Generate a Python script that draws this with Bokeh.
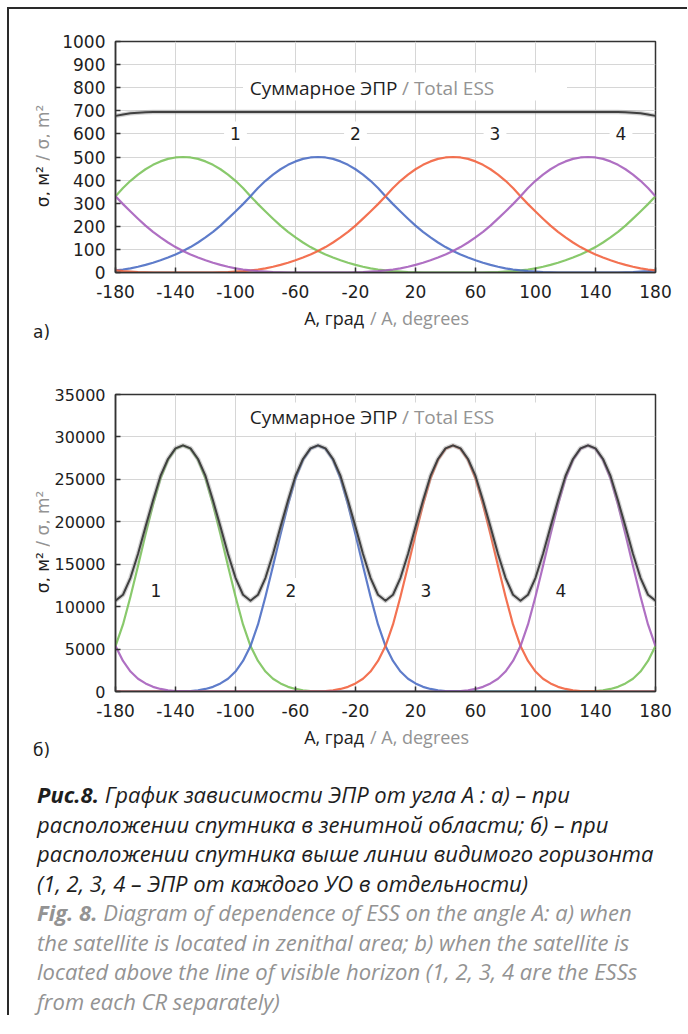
from bokeh.plotting import figure
from bokeh.models import Range1d, FixedTicker, Label, BoxAnnotation, Div, CustomJSTickFormatter
from bokeh.layouts import column, row
from bokeh.embed import file_html
from bokeh.resources import INLINE

# ---------------- data ----------------
angle = list(range(-180, 181, 5))
x_ticks = [-180, -140, -100, -60, -20, 20, 60, 100, 140, 180]
y_ticks_a = [0, 100, 200, 300, 400, 500, 600, 700, 800, 900, 1000]
y_ticks_b = [0, 5000, 10000, 15000, 20000, 25000, 30000, 35000]
cr_names = ["1", "2", "3", "4"]

# chart a) – satellite in zenithal area (sigma, m^2)
cr1_a = [330, 366, 397, 424, 447, 466, 481, 492, 498, 500, 498, 492, 481, 466, 447, 424, 397, 366, 330,
         296, 264, 233, 203, 176, 152, 130, 110, 93, 78, 65, 53, 42, 33, 25, 18, 13, 9, 6, 4, 2, 1,
         0, 0, 0, 0, 0, 0, 0, 0, 0,
         1, 2, 4, 6, 9, 13, 18, 25, 33, 42, 53, 65, 78, 93, 110, 130, 152, 176, 203, 233, 264, 296, 330]
cr2_a = [9, 13, 18, 25, 33, 42, 53, 65, 78, 93, 110, 130, 152, 176, 203, 233, 264, 296, 330, 366, 397,
         424, 447, 466, 481, 492, 498, 500,
         498, 492, 481, 466, 447, 424, 397, 366, 330,
         296, 264, 233, 203, 176, 152, 130, 110, 93, 78, 65, 53, 42, 33, 25, 18, 13, 9, 6, 4, 2, 1,
         0, 0, 0, 0, 0, 0, 0, 0, 0,
         1, 2, 4, 6, 9]
cr3_a = [9, 6, 4, 2, 1,
         0, 0, 0, 0, 0, 0, 0, 0, 0,
         1, 2, 4, 6, 9, 13, 18, 25, 33, 42, 53, 65, 78, 93, 110, 130, 152, 176, 203, 233, 264, 296, 330,
         366, 397, 424, 447, 466, 481, 492, 498,
         500,
         498, 492, 481, 466, 447, 424, 397, 366, 330, 296, 264, 233, 203, 176, 152, 130, 110, 93, 78,
         65, 53, 42, 33, 25, 18, 13, 9]
cr4_a = [330, 296, 264, 233, 203, 176, 152, 130, 110, 93, 78, 65, 53, 42, 33, 25, 18, 13, 9, 6, 4, 2, 1,
         0, 0, 0, 0, 0, 0, 0, 0, 0,
         1, 2, 4, 6, 9, 13, 18, 25, 33, 42, 53, 65, 78, 93, 110, 130, 152, 176, 203, 233, 264, 296, 330,
         366, 397, 424, 447, 466, 481, 492, 498,
         500,
         498, 492, 481, 466, 447, 424, 397, 366, 330]
total_a = [678, 684, 689, 692, 694,
           695, 695, 695, 695, 695, 695, 695, 695, 695,
           695, 695, 695, 695, 695, 695, 695, 695, 695,
           695, 695, 695, 695, 695, 695, 695, 695, 695,
           695, 695, 695, 695, 695, 695, 695, 695, 695,
           695, 695, 695, 695, 695, 695, 695, 695, 695,
           695, 695, 695, 695, 695, 695, 695, 695, 695,
           695, 695, 695, 695, 695, 695, 695, 695, 695,
           694, 692, 689, 684, 678]

# chart b) – satellite above the visible horizon (sigma, m^2)
cr1_b = [5350, 7900, 11200, 14800, 18500, 22000, 25100, 27300, 28600, 29000, 28600, 27300, 25100, 22000,
         18500, 14800, 11200, 7900, 5350,
         3600, 2350, 1500, 950, 550, 300, 140, 60, 20, 5,
         0, 0, 0, 0, 0, 0, 0, 0, 0, 0, 0,
         0, 0, 0, 0, 0, 0, 0, 0, 0, 0, 0,
         0, 0, 0, 0, 0, 0, 0, 0, 0, 0, 0,
         5, 20, 60, 140, 300, 550, 950, 1500, 2350, 3600, 5350]
cr2_b = [0, 0, 0, 0, 0, 0, 0, 0,
         5, 20, 60, 140, 300, 550, 950, 1500, 2350, 3600, 5350, 7900, 11200, 14800, 18500, 22000, 25100,
         27300, 28600, 29000,
         28600, 27300, 25100, 22000, 18500, 14800, 11200, 7900, 5350,
         3600, 2350, 1500, 950, 550, 300, 140, 60, 20, 5,
         0, 0, 0, 0, 0, 0, 0, 0, 0, 0, 0, 0, 0,
         0, 0, 0, 0, 0, 0, 0, 0, 0, 0, 0, 0, 0]
cr3_b = [0, 0, 0, 0, 0, 0, 0, 0, 0, 0, 0, 0, 0,
         0, 0, 0, 0, 0, 0, 0, 0, 0, 0, 0, 0, 0,
         5, 20, 60, 140, 300, 550, 950, 1500, 2350, 3600, 5350, 7900, 11200, 14800, 18500, 22000, 25100,
         27300, 28600,
         29000,
         28600, 27300, 25100, 22000, 18500, 14800, 11200, 7900, 5350, 3600, 2350, 1500, 950, 550, 300,
         140, 60, 20, 5,
         0, 0, 0, 0, 0, 0, 0, 0]
cr4_b = [5350, 3600, 2350, 1500, 950, 550, 300, 140, 60, 20, 5,
         0, 0, 0, 0, 0, 0, 0, 0, 0, 0, 0,
         0, 0, 0, 0, 0, 0, 0, 0, 0, 0, 0,
         0, 0, 0, 0, 0, 0, 0, 0, 0, 0, 0,
         5, 20, 60, 140, 300, 550, 950, 1500, 2350, 3600, 5350, 7900, 11200, 14800, 18500, 22000, 25100,
         27300, 28600,
         29000,
         28600, 27300, 25100, 22000, 18500, 14800, 11200, 7900, 5350]
total_b = [10700, 11400, 13400, 16200, 19400, 22500, 25400, 27400, 28650, 29000,
           28650, 27400, 25400, 22500, 19400, 16200, 13400, 11400,
           10700, 11400, 13400, 16200, 19400, 22500, 25400, 27400, 28650, 29000,
           28650, 27400, 25400, 22500, 19400, 16200, 13400, 11400,
           10700, 11400, 13400, 16200, 19400, 22500, 25400, 27400, 28650, 29000,
           28650, 27400, 25400, 22500, 19400, 16200, 13400, 11400,
           10700, 11400, 13400, 16200, 19400, 22500, 25400, 27400, 28650, 29000,
           28650, 27400, 25400, 22500, 19400, 16200, 13400, 11400,
           10700]

# ---------------- style ----------------
CR_COLORS = ["#7cc35c", "#4c6ec4", "#f2633f", "#a660bd"]
GREY = "#939393"
DARK = "#1e1e1e"
TICK_FONT = "DejaVu Sans"
TEXT_FONT = "Open Sans"
YDIV_W = 40
MB_LEFT = 66
FIG_W = MB_LEFT + 540 + 25


def make_chart(series, total, y_max, y_ticks, fh, mb_top, mb_bottom, ylab_size, lay):
    p = figure(width=FIG_W, height=mb_top + fh + mb_bottom,
               x_range=Range1d(-180, 180), y_range=Range1d(0, y_max),
               output_backend="svg", toolbar_location=None,
               min_border_left=MB_LEFT, min_border_right=25,
               min_border_top=mb_top, min_border_bottom=mb_bottom,
               background_fill_color="white", border_fill_color="white", margin=0)
    p.outline_line_color = "#333333"
    p.outline_line_width = 1.5
    for ax in (p.xaxis[0], p.yaxis[0]):
        ax.axis_line_color = "#333333"
        ax.axis_line_width = 1.5
        ax.major_tick_in = 5
        ax.major_tick_out = 0
        ax.major_tick_line_color = "#333333"
        ax.major_tick_line_width = 1.5
        ax.minor_tick_line_color = None
        ax.major_label_text_font = TICK_FONT
        ax.major_label_text_color = DARK
        ax.formatter = CustomJSTickFormatter(code="return tick.toString();")
    p.xaxis.ticker = FixedTicker(ticks=x_ticks)
    p.yaxis.ticker = FixedTicker(ticks=y_ticks)
    p.xaxis.major_label_text_font_size = "17px"
    p.yaxis.major_label_text_font_size = ylab_size
    p.xaxis.major_label_standoff = 12
    p.yaxis.major_label_standoff = 10
    p.grid.grid_line_color = "#d6d6d6"
    p.grid.grid_line_width = 1

    for ys, c in zip(series, CR_COLORS):
        p.line(angle, ys, line_color=c, line_width=2.2, line_alpha=0.9, line_join="round")
    p.line(angle, total, line_color="#9a9a9a", line_width=4.5, line_alpha=0.45, line_join="round")
    p.line(angle, total, line_color="#404040", line_width=2, line_join="round")

    # white box behind the total-ESS caption
    p.add_layout(BoxAnnotation(left=lay["box"][0], right=lay["box"][1],
                               bottom=lay["box"][2], top=lay["box"][3],
                               fill_color="white", fill_alpha=1.0, line_alpha=0))
    tx, ty = lay["title"]
    p.add_layout(Label(x=tx - 1.5, y=ty, text="Суммарное ЭПР", text_font=TEXT_FONT,
                       text_font_size="19px", text_color=DARK,
                       text_align="right", text_baseline="middle"))
    p.add_layout(Label(x=tx + 1.5, y=ty, text="/ Total ESS", text_font=TEXT_FONT,
                       text_font_size="19px", text_color=GREY,
                       text_align="left", text_baseline="middle"))
    for name, (lx, ly) in zip(cr_names, lay["nums"]):
        p.add_layout(Label(x=lx, y=ly, text=name, text_font=TICK_FONT,
                           text_font_size="17px", text_color=DARK,
                           text_align="center", text_baseline="middle",
                           background_fill_color="white", padding=6))
    return p


def y_title_div(height, center_y):
    html = (
        f"<div style=\"position:relative;width:{YDIV_W}px;height:{height}px;\">"
        f"<span style=\"position:absolute;left:34px;top:{center_y}px;"
        "transform:translate(-50%,-50%) rotate(-90deg);white-space:nowrap;line-height:1;"
        f"font-family:'DejaVu Sans';font-size:17px;color:{DARK};\">"
        f"σ, м² <span style=\"color:{GREY}\">/ σ, m²</span></span></div>"
    )
    return Div(text=html, width=YDIV_W, height=height, margin=0)


def x_title_div(letter, height, title_y, letter_y):
    total_w = YDIV_W + FIG_W
    html = (
        f"<div style=\"position:relative;width:{total_w}px;height:{height}px;\">"
        f"<span style=\"position:absolute;right:{total_w - 355}px;top:{title_y}px;"
        "transform:translateY(-50%);white-space:nowrap;line-height:1;"
        f"font-family:'Open Sans';font-size:18px;color:{DARK};\">A, град</span>"
        f"<span style=\"position:absolute;left:361px;top:{title_y}px;"
        "transform:translateY(-50%);white-space:nowrap;line-height:1;"
        f"font-family:'Open Sans';font-size:18px;color:{GREY};\">/ A, degrees</span>"
        f"<span style=\"position:absolute;left:24px;top:{letter_y}px;"
        "transform:translateY(-50%);white-space:nowrap;line-height:1;"
        f"font-family:'DejaVu Sans';font-size:17px;color:{DARK};\">{letter}</span>"
        "</div>"
    )
    return Div(text=html, width=total_w, height=height, margin=0)


lay_a = dict(box=(-95, 121, 745, 866), title=(9.5, 797),
             nums=[(-100, 600), (-20, 600), (73, 600), (157, 600)])
lay_b = dict(box=(-95, 121, 30520, 34060), title=(9.5, 32290),
             nums=[(-153, 11900), (-63, 11900), (27, 11900), (117, 11900)])

# page layout: margin 7 + border 2 -> content starts at y = 9
# chart a: figure 9..306 (frame 41..272), title strip 306..345
p_a = make_chart([cr1_a, cr2_a, cr3_a, cr4_a], total_a, 1000, y_ticks_a, 231, 32, 34, "17px", lay_a)
# chart b: figure 345..725 (frame 394..691), title strip 725..765
p_b = make_chart([cr1_b, cr2_b, cr3_b, cr4_b], total_b, 35000, y_ticks_b, 297, 49, 34, "16px", lay_b)

ya = y_title_div(32 + 231 + 34, 32 + 231 // 2)
yb = y_title_div(49 + 297 + 34, 49 + 297 // 2)
xa = x_title_div("а)", 39, 12, 26)
xb = x_title_div("б)", 40, 12, 25)

caption_html = (
    "<div style=\"font-family:'Open Sans'; font-style:italic; font-size:22px; line-height:29.5px;"
    f" color:{DARK}; padding:15px 0 0 28px; white-space:nowrap;\">"
    "<b>Рис.8.</b> График зависимости ЭПР от угла А : а) – при<br>"
    "расположении спутника в зенитной области; б) – при<br>"
    "расположении спутника выше линии видимого горизонта<br>"
    "(1, 2, 3, 4 – ЭПР от каждого УО в отдельности)<br>"
    f"<span style=\"color:{GREY}\"><b>Fig. 8.</b> Diagram of dependence of ESS on the angle A: a) when<br>"
    "the satellite is located in zenithal area; b) when the satellite is<br>"
    "located above the line of visible horizon (1, 2, 3, 4 are the ESSs<br>"
    "from each CR separately)</span></div>"
)
caption = Div(text=caption_html, width=678, height=250, margin=0)

layout = column(row(ya, p_a, spacing=0), xa, row(yb, p_b, spacing=0), xb, caption,
                spacing=0, margin=(7, 0, 0, 7),
                styles={"border-left": "2px solid #2a2a2a", "border-top": "2px solid #2a2a2a"})

open("out.html", "w").write(file_html(layout, INLINE))
